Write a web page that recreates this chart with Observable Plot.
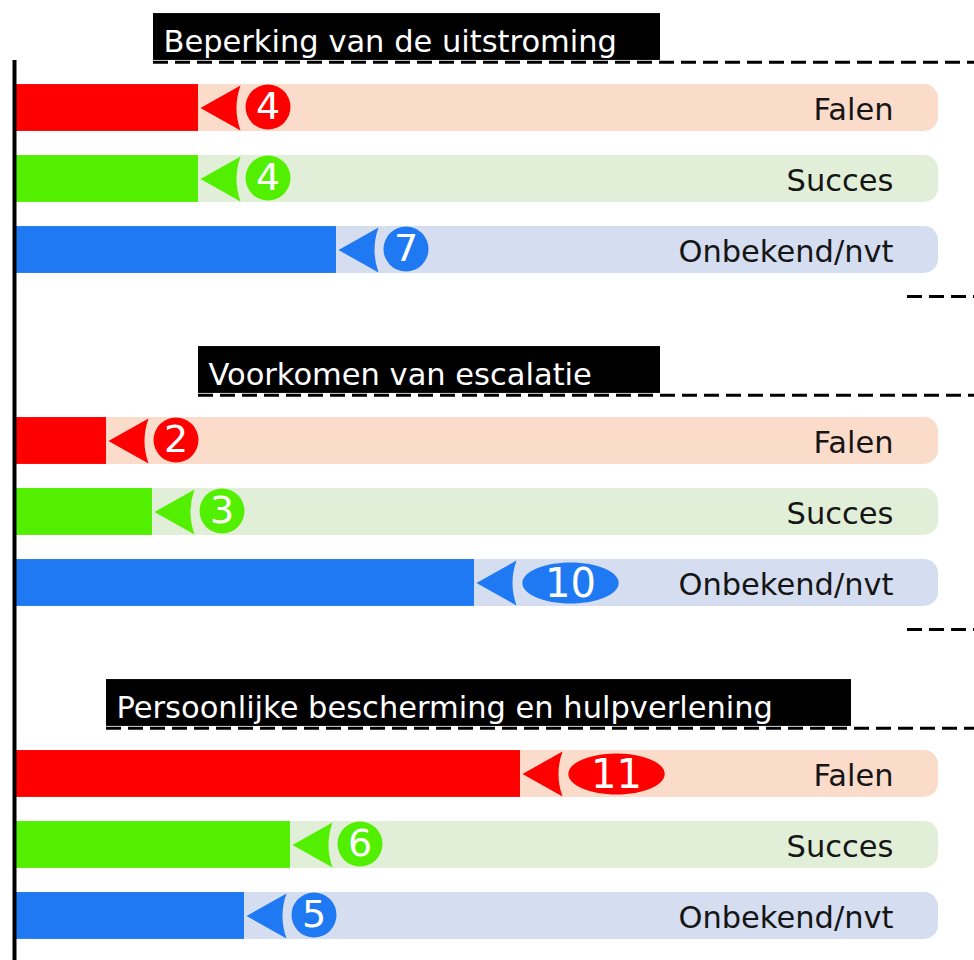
<!DOCTYPE html>
<html><head><meta charset="utf-8">
<script src="https://cdn.jsdelivr.net/npm/d3@7"></script>
<script src="https://cdn.jsdelivr.net/npm/@observablehq/plot@0.6"></script>
<style>html,body{margin:0;padding:0;background:#fff}#chart svg{display:block}</style>
</head><body><div id="chart"></div>
<script>
// ---- data ----
const groups = ["Beperking van de uitstroming", "Voorkomen van escalatie", "Persoonlijke bescherming en hulpverlening"];
const outcomes = ["Falen", "Succes", "Onbekend/nvt"];
const falen = [4, 2, 11];
const succes = [4, 3, 6];
const onbekend = [7, 10, 5];

// ---- style ----
const barColors = ["#fe0000", "#52ef00", "#1f79f2"];
const trackColors = ["#fbdccb", "#e2efd8", "#d5def0"];
const FONT = "Verdana, 'DejaVu Sans', sans-serif";

// ---- layout ----
const W = 974, H = 960;
const X0 = 14, PX_PER_UNIT = 46;
const ROW_PX = 71, FIRST_ROW_PX = 107.5, GROUP_STEP = 4.69;
const BAR_HALF = 0.33;
const toUnits = px => (px - X0) / PX_PER_UNIT;
const TRACK_END = toUnits(938);
const LABEL_X = toUnits(893);
const TRAIL_X = toUnits(907);
const titleBoxPx = [[153, 660], [198, 660], [106, 851]];
const xDomain = [toUnits(0), toUnits(W)];
const yDomain = [-FIRST_ROW_PX / ROW_PX, (H - FIRST_ROW_PX) / ROW_PX];

const series = [falen, succes, onbekend];
const rows = groups.flatMap((g, gi) => outcomes.map((o, oi) => ({
  group: g, outcome: o, value: series[oi][gi],
  slot: gi * GROUP_STEP + oi, color: barColors[oi], track: trackColors[oi]
})));
const titles = groups.map((g, gi) => ({
  title: g, slot: gi * GROUP_STEP - 1, base: gi * GROUP_STEP,
  x1: toUnits(titleBoxPx[gi][0]), x2: toUnits(titleBoxPx[gi][1])
}));

// left-pointing arrowhead with a slightly concave base
const arrowLeft = {draw(ctx, size) {
  const r = Math.sqrt(size / Math.PI), w = 0.89 * r;
  ctx.moveTo(-w, 0); ctx.lineTo(w, -r);
  ctx.quadraticCurveTo(w - 0.36 * r, 0, w, r);
  ctx.closePath();
}};
const ellipse = {draw(ctx, size) {
  const r = Math.sqrt(size / Math.PI), a = 2.35 * r, b = r, k = 0.5523;
  ctx.moveTo(a, 0);
  ctx.bezierCurveTo(a, k * b, k * a, b, 0, b);
  ctx.bezierCurveTo(-k * a, b, -a, k * b, -a, 0);
  ctx.bezierCurveTo(-a, -k * b, -k * a, -b, 0, -b);
  ctx.bezierCurveTo(k * a, -b, a, -k * b, a, 0);
  ctx.closePath();
}};

const single = rows.filter(d => d.value < 10);
const double = rows.filter(d => d.value >= 10);

const chart = Plot.plot({
  width: W, height: H, margin: 0,
  x: {domain: xDomain, range: [0, W], axis: null},
  y: {domain: yDomain, range: [0, H], axis: null},
  color: {type: "identity"},
  style: {fontFamily: FONT, background: "#fff"},
  marks: [
    Plot.rect(rows, {x1: 0, x2: TRACK_END, y1: d => d.slot - BAR_HALF, y2: d => d.slot + BAR_HALF, fill: d => d.track, rx: 14}),
    Plot.rect(rows, {x1: 0, x2: "value", y1: d => d.slot - BAR_HALF, y2: d => d.slot + BAR_HALF, fill: d => d.color}),
    Plot.dot(rows, {x: "value", y: "slot", dx: 22, r: 22.5, symbol: arrowLeft, fill: d => d.color, stroke: "none"}),
    Plot.dot(single, {x: "value", y: "slot", dx: 69.5, dy: -1, r: 22.5, fill: d => d.color, stroke: "none"}),
    Plot.dot(double, {x: "value", y: "slot", dx: 96, r: 20.5, symbol: ellipse, fill: d => d.color, stroke: "none"}),
    Plot.text(single, {x: "value", y: "slot", text: d => String(d.value), dx: 69.5, dy: -1, fill: "#fff", fontSize: 38, fontFamily: FONT}),
    Plot.text(double, {x: "value", y: "slot", text: d => String(d.value), dx: 96, dy: 1, fill: "#fff", fontSize: 40, fontFamily: FONT}),
    Plot.text(rows, {x: LABEL_X, y: "slot", text: "outcome", textAnchor: "end", dy: 2, fill: "#151515", fontSize: 30.5, fontFamily: FONT}),
    Plot.rect(titles, {x1: "x1", x2: "x2", y1: d => d.slot - 0.33, y2: d => d.slot + 0.33, fill: "#000"}),
    Plot.text(titles, {x: "x1", y: "slot", text: "title", textAnchor: "start", dx: 10, dy: 5, fill: "#fff", fontSize: 30.5, fontFamily: FONT}),
    Plot.ruleY(titles, {y: d => d.slot + 0.355, x1: "x1", x2: xDomain[1], stroke: "#000", strokeWidth: 3, strokeDasharray: "15,7"}),
    Plot.ruleY(titles, {y: d => d.base + 2.655, x1: TRAIL_X, x2: xDomain[1], stroke: "#000", strokeWidth: 3, strokeDasharray: "15,7"}),
    Plot.ruleX([0], {y1: titles[0].slot + 0.33, y2: yDomain[1], stroke: "#000", strokeWidth: 4})
  ]
});
document.getElementById("chart").appendChild(chart);
</script>
</body></html>
